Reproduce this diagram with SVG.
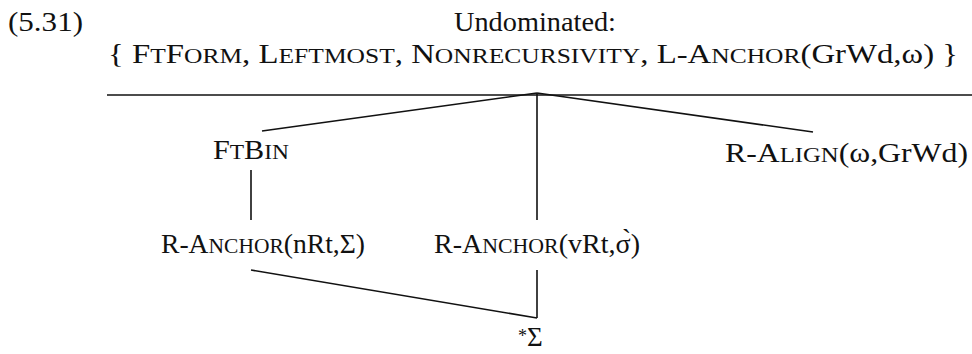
<svg xmlns="http://www.w3.org/2000/svg" width="972" height="354" viewBox="0 0 972 354">
<style>
text{font-family:"Liberation Serif","DejaVu Serif",serif;font-size:27px;fill:#111}
.sc{font-size:21px}
.e line{stroke:#111;stroke-width:1.6}
</style>
<rect width="972" height="354" fill="#fff"/>
<g id="header">
<text x="8" y="31" textLength="75" lengthAdjust="spacingAndGlyphs">(5.31)</text>
<text x="454" y="31" textLength="162" lengthAdjust="spacingAndGlyphs">Undominated:</text>
<text x="108" y="63" textLength="850" lengthAdjust="spacingAndGlyphs">{ F<tspan class="sc">T</tspan>F<tspan class="sc">ORM</tspan>, L<tspan class="sc">EFTMOST</tspan>, N<tspan class="sc">ONRECURSIVITY</tspan>, L-A<tspan class="sc">NCHOR</tspan>(GrWd,ω) }</text>
</g>
<g class="e" id="connectors">
<line x1="107" y1="95" x2="972" y2="95"/>
<line x1="537" y1="93" x2="262" y2="131"/>
<line x1="537" y1="93" x2="537" y2="220"/>
<line x1="537" y1="93" x2="813" y2="132"/>
<line x1="251" y1="170" x2="251" y2="220"/>
<line x1="251" y1="270" x2="537" y2="318"/>
<line x1="537" y1="270" x2="537" y2="318"/>
</g>
<g id="ftbin"><text x="213" y="159" textLength="76" lengthAdjust="spacingAndGlyphs">F<tspan class="sc">T</tspan>B<tspan class="sc">IN</tspan></text></g>
<g id="ralign"><text x="725" y="162" textLength="243" lengthAdjust="spacingAndGlyphs">R-A<tspan class="sc">LIGN</tspan>(ω,GrWd)</text></g>
<g id="ranchor-nrt"><text x="161" y="253" textLength="204" lengthAdjust="spacingAndGlyphs">R-A<tspan class="sc">NCHOR</tspan>(nRt,Σ)</text></g>
<g id="ranchor-vrt"><text x="434" y="253" textLength="206" lengthAdjust="spacingAndGlyphs">R-A<tspan class="sc">NCHOR</tspan>(vRt,σ̀)</text></g>
<g id="star-sigma"><text x="518" y="346" font-size="25"><tspan font-size="18" dy="-4">*</tspan><tspan dy="4">Σ</tspan></text></g>
</svg>
